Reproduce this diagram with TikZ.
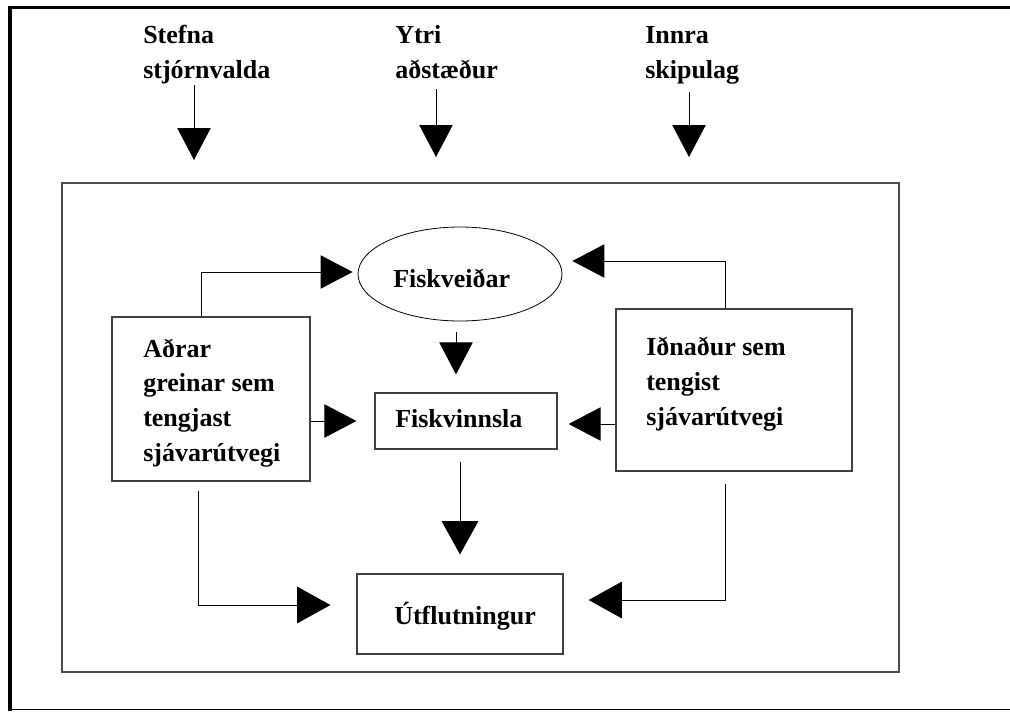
\documentclass[tikz,border=0pt]{standalone}
\usepackage{fontspec}
\setmainfont{Liberation Serif}
\usetikzlibrary{arrows.meta,shapes.geometric,calc}
\begin{document}
\begin{tikzpicture}[x=0.75pt,y=-0.75pt,
  lbl/.style={font=\fontsize{19.5}{26}\selectfont\bfseries, inner sep=0pt, anchor=base west, align=left},
  box/.style={draw=black!75, line width=0.9pt, rectangle, inner sep=0pt},
  conn/.style={draw, line width=0.75pt, -{Triangle[length=24pt,width=25pt]}},
  bigconn/.style={draw, line width=0.75pt, -{Triangle[length=25pt,width=27.5pt]}}]
\useasboundingbox (0,0) rectangle (1010,711);

% outer frame
\draw[line width=2.5pt] (10,711) -- (10,7.5) -- (1010,7.5);
\draw[line width=0.9pt] (10,709.5) -- (1010,709.5);
% inner frame
\draw[black!70, line width=1pt] (62,183) rectangle (899,672);

% top labels (anchored at the baseline of their last line)
\node[lbl] (t1) at (143,78) {Stefna\\stjórnvalda};
\node[lbl] (t2) at (395,78) {Ytri\\aðstæður};
\node[lbl] (t3) at (645,78) {Innra\\skipulag};

\coordinate (a1s) at (194,85);  \coordinate (a1e) at (194,160);
\coordinate (a2s) at (436,89);  \coordinate (a2e) at (436,157);
\coordinate (a3s) at (689,92);  \coordinate (a3e) at (689,157);
\draw[conn] (a1s) -- (a1e);
\draw[conn] (a2s) -- (a2e);
\draw[conn] (a3s) -- (a3e);

% nodes
\node[box, minimum width=148.5pt, minimum height=123pt] (L) at (211,399) {};
\node[lbl] (Lt) at (143,461) {Aðrar\\greinar sem\\tengjast\\sjávarútvegi};
\node[box, minimum width=177pt, minimum height=121.5pt] (R) at (734,390) {};
\node[lbl] (Rt) at (646,425) {Iðnaður sem\\tengist\\sjávarútvegi};
\node[draw, ellipse, line width=0.6pt, minimum width=153pt, minimum height=70.5pt, inner sep=0pt] (E) at (460,274) {};
\node[lbl] (Et) at (393,287) {Fiskveiðar};
\node[box, minimum width=136.5pt, minimum height=42pt] (F) at (466,421) {};
\node[lbl] (Ft) at (395,427) {Fiskvinnsla};
\node[box, minimum width=154.5pt, minimum height=60pt] (U) at (460,614) {};
\node[lbl] (Ut) at (394,624) {Útflutningur};

% connectors
\draw[conn] ($(L.north)+(-10,0)$) |- ($(E.west)+(-5,-2)$);
\draw[conn] ($(R.north)+(-9,0)$) |- ($(E.east)+(10,-13)$);
\draw[conn] ($(E.south)+(-4,11)$) -- ($(F.north)+(-10,-18)$);
\draw[conn] (L.east |- F.west) -- ($(F.west)+(-18,0)$);
\draw[conn] ($(R.west |- F.east)+(0,3)$) -- ($(F.east)+(11,3)$);
\draw[bigconn] ($(F.south)+(-6,12)$) -- ($(U.north)+(0,-19)$);
\draw[bigconn] ($(L.south)+(-13,9)$) |- ($(U.west)+(-26,-9)$);
\draw[bigconn] ($(R.south)+(-9,12)$) |- ($(U.east)+(25,-14)$);
\end{tikzpicture}
\end{document}
